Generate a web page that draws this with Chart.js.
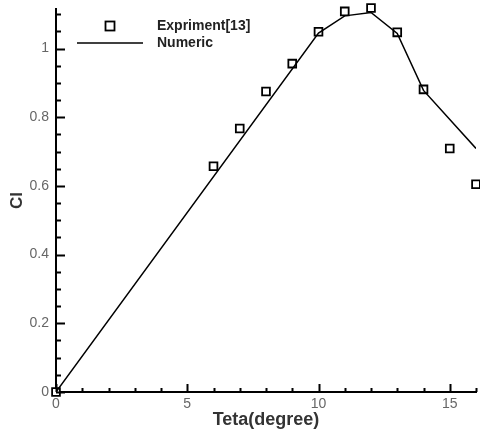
<!DOCTYPE html>
<html>
<head>
<meta charset="utf-8">
<script src="https://cdn.jsdelivr.net/npm/chart.js@4.4.1/dist/chart.umd.min.js"></script>
<style>
  html, body { margin: 0; padding: 0; background: #fff; }
  #wrap { width: 480px; height: 431px; }
</style>
</head>
<body>
<div id="wrap"><canvas id="clChart" width="480" height="431"></canvas></div>
<script>
// experiment points
const expTeta = [0, 6, 7, 8, 9, 10, 11, 12, 13, 14, 15, 16];
const expCl = [0, 0.657, 0.767, 0.875, 0.956, 1.049, 1.108, 1.118, 1.047, 0.881, 0.709, 0.605];

// numeric curve
const numTeta = [0, 10, 11, 12, 13, 14, 16];
const numCl = [0, 1.045, 1.095, 1.105, 1.044, 0.878, 0.709];

const xTicks = [0, 5, 10, 15];
const yTicks = [0, 0.2, 0.4, 0.6, 0.8, 1];
const legendLabels = ["Expriment[13]", "Numeric"];

function toPoints(xs, ys) {
  return xs.map((x, i) => ({ x: x, y: ys[i] }));
}

// ticks pointing inward + the legend box in the top left
const axisDecor = {
  id: 'axisDecor',
  afterDraw(chart) {
    const ctx = chart.ctx;
    const xs = chart.scales.x;
    const ys = chart.scales.y;
    const area = chart.chartArea;
    ctx.save();
    ctx.strokeStyle = '#000';
    ctx.lineWidth = 2;
    ctx.beginPath();
    for (let v = 0; v <= 16; v += 1) {
      const px = Math.round(xs.getPixelForValue(v)) + 0.5;
      const len = (v % 5 === 0) ? 8 : 4;
      ctx.moveTo(px, area.bottom);
      ctx.lineTo(px, area.bottom - len);
    }
    for (let i = 0; i <= 22; i++) {
      const v = i * 0.05;
      const py = Math.round(ys.getPixelForValue(v)) + 0.5;
      const len = (i % 4 === 0) ? 9 : 5;
      ctx.moveTo(area.left, py);
      ctx.lineTo(area.left + len, py);
    }
    ctx.stroke();

    // legend
    ctx.lineWidth = 1.8;
    ctx.fillStyle = '#fff';
    ctx.fillRect(105.5, 21.5, 9, 9);
    ctx.strokeRect(105.5, 21.5, 9, 9);
    ctx.lineWidth = 1.5;
    ctx.beginPath();
    ctx.moveTo(77, 43);
    ctx.lineTo(143, 43);
    ctx.stroke();
    ctx.fillStyle = '#222';
    ctx.font = 'bold 14px "Liberation Sans", Arial, sans-serif';
    ctx.textBaseline = 'middle';
    ctx.textAlign = 'left';
    ctx.fillText(legendLabels[0], 157, 26);
    ctx.fillText(legendLabels[1], 157, 43);
    ctx.restore();
  }
};

const ctx = document.getElementById('clChart').getContext('2d');
const chart = new Chart(ctx, {
  type: 'scatter',
  data: {
    datasets: [
      {
        label: legendLabels[1],
        data: toPoints(numTeta, numCl),
        showLine: true,
        borderColor: '#000',
        borderWidth: 1.5,
        pointRadius: 0,
        tension: 0
      },
      {
        label: legendLabels[0],
        data: toPoints(expTeta, expCl),
        pointStyle: 'rect',
        pointRadius: 5.5,
        borderColor: '#000',
        borderWidth: 1.8,
        backgroundColor: '#fff',
        clip: false
      }
    ]
  },
  options: {
    responsive: false,
    animation: false,
    layout: { autoPadding: false, padding: { top: 9, right: 4, left: 0, bottom: 0 } },
    plugins: {
      legend: { display: false },
      tooltip: { enabled: false }
    },
    scales: {
      x: {
        type: 'linear',
        min: 0,
        max: 16,
        afterFit: s => { s.height = 39; s.paddingLeft = 0; s.paddingRight = 0; },
        afterBuildTicks: s => { s.ticks = xTicks.map(v => ({ value: v })); },
        grid: { display: false, drawTicks: false },
        border: { display: true, color: '#000', width: 2 },
        ticks: {
          padding: 4,
          color: '#666',
          font: { family: '"Liberation Sans", Arial, sans-serif', size: 14 },
          maxRotation: 0
        },
        title: {
          display: true,
          text: 'Teta(degree)',
          color: '#333',
          padding: { top: 0, bottom: 0 },
          font: { family: '"Liberation Sans", Arial, sans-serif', size: 18, weight: 'bold' }
        }
      },
      y: {
        min: 0,
        max: 1.115,
        afterFit: s => { s.width = 56; s.paddingTop = 0; s.paddingBottom = 0; },
        afterBuildTicks: s => { s.ticks = yTicks.map(v => ({ value: v })); },
        grid: { display: false, drawTicks: false },
        border: { display: true, color: '#000', width: 2 },
        ticks: {
          padding: 7,
          color: '#666',
          font: { family: '"Liberation Sans", Arial, sans-serif', size: 14 },
          callback: v => String(v)
        },
        title: {
          display: true,
          text: 'Cl',
          color: '#333',
          padding: { top: 7, bottom: 0 },
          font: { family: '"Liberation Sans", Arial, sans-serif', size: 17, weight: 'bold' }
        }
      }
    }
  },
  plugins: [axisDecor]
});
</script>
</body>
</html>
